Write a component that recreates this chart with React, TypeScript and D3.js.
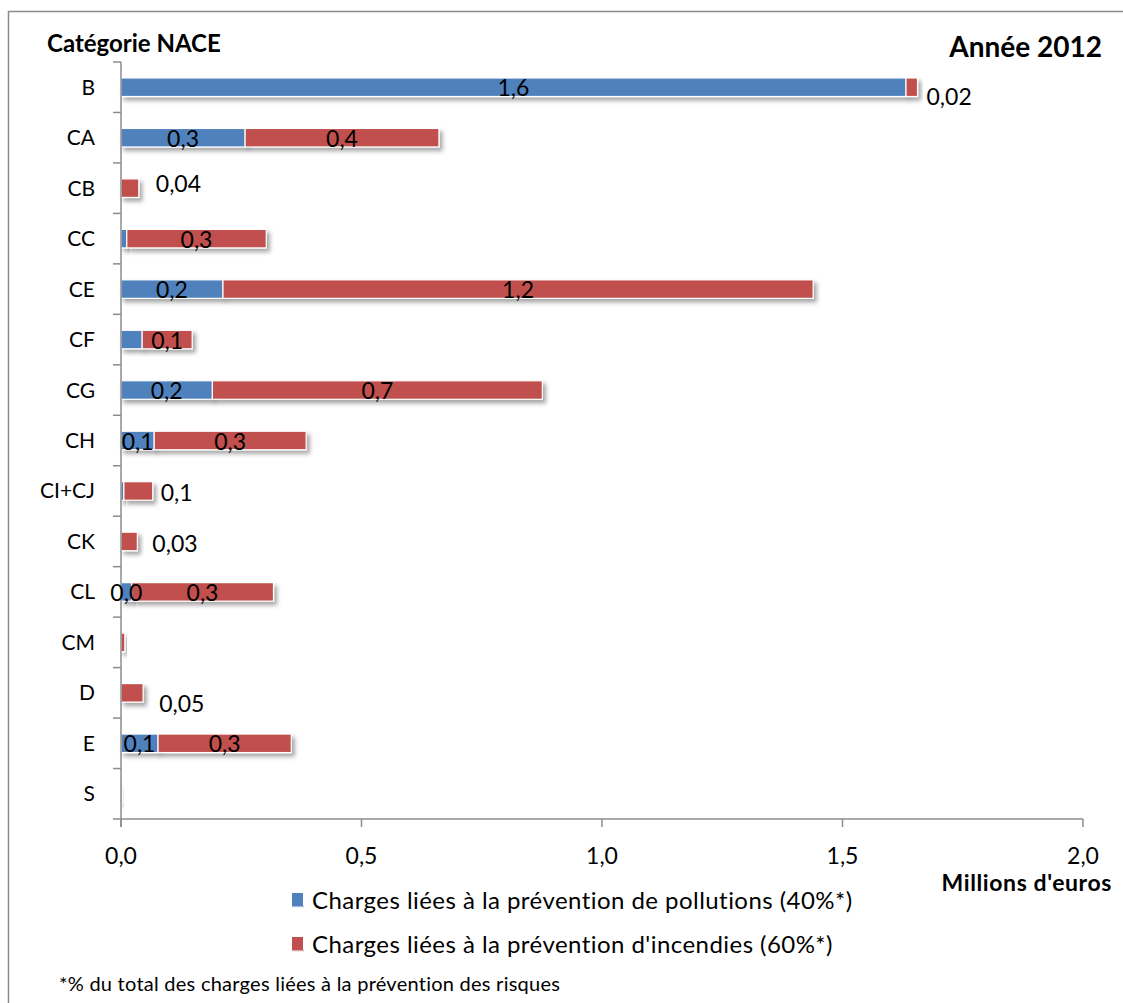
import React from "react";
import * as d3 from "d3";

const categories = ["B", "CA", "CB", "CC", "CE", "CF", "CG", "CH", "CI+CJ", "CK", "CL", "CM", "D", "E", "S"];
const pollution = [1.632, 0.258, 0, 0.012, 0.212, 0.044, 0.19, 0.069, 0.006, 0, 0.022, 0, 0, 0.077, 0];
const incendies = [0.024, 0.403, 0.037, 0.29, 1.227, 0.104, 0.686, 0.316, 0.06, 0.034, 0.295, 0.008, 0.046, 0.277, 0.003];
const xTicks = [0, 0.5, 1, 1.5, 2];

// which labels Excel shows
const showPollutionLabel = ["B", "CA", "CE", "CG", "CH", "CL", "E"];
const showIncendiesLabel = ["B", "CA", "CB", "CC", "CE", "CF", "CG", "CH", "CI+CJ", "CK", "CL", "D", "E"];
// labels moved outside the bar: decimals, offsets
const outsideLabels: Record<string, { dec: number; dx: number; dy: number }> = {
  B: { dec: 2, dx: 9, dy: 18 },
  CB: { dec: 2, dx: 17, dy: 3.5 },
  "CI+CJ": { dec: 1, dx: 8, dy: 10.5 },
  CK: { dec: 2, dx: 15, dy: 10.5 },
  D: { dec: 2, dx: 16, dy: 19 },
};

const legendItems = [
  { label: "Charges liées à la prévention de pollutions (40%*)", color: "#4F81BD" },
  { label: "Charges liées à la prévention d'incendies (60%*)", color: "#C0504D" },
];

const BLUE = "#4F81BD";
const RED = "#C0504D";
const AXIS = "#8c8c8c";
const FONT = "Lato, 'Open Sans', sans-serif";

const fmt = (v: number, dec: number) => v.toFixed(dec).replace(".", ",");

export default function App() {
  const W = 1123;
  const H = 1003;
  const x = d3.scaleLinear().domain([0, 2]).range([121, 1083]);
  const y = d3.scaleBand<string>().domain(categories).range([62, 819]);
  const step = y.step();
  const bh = step * 0.367;
  const cy = (c: string) => (y(c) as number) + step / 2;

  const boundaries = d3.range(categories.length + 1).map((i) => 62 + i * step);

  return (
    <svg width={W} height={H} style={{ position: "absolute", left: 0, top: 0, background: "#fff" }} fontFamily={FONT}>
      <defs>
        <filter id="sh" x="-20%" y="-40%" width="160%" height="220%">
          <feDropShadow dx="3" dy="3.5" stdDeviation="2.2" floodColor="#000" floodOpacity="0.35" />
        </filter>
      </defs>
      <rect x={0} y={0} width={W} height={H} fill="#fff" />
      <rect x={8.5} y={11.5} width={1300} height={1200} fill="none" stroke={AXIS} strokeWidth={1.5} />

      {/* titles */}
      <text x={47} y={52} fontSize={24} fontWeight="bold">Catégorie NACE</text>
      <text x={1102} y={57} fontSize={28} fontWeight="bold" textAnchor="end">Année 2012</text>

      {/* bars */}
      {categories.map((c, i) => {
        const p = pollution[i];
        const r = incendies[i];
        const yy = cy(c) - bh / 2;
        return (
          <g key={c}>
            {p > 0 && (
              <rect x={x(0)} y={yy} width={x(p) - x(0)} height={bh} fill={BLUE} stroke="#fff" strokeWidth={1.2} filter="url(#sh)" />
            )}
            {r > 0 && (
              <rect x={x(p)} y={yy} width={x(p + r) - x(p)} height={bh} fill={RED} stroke="#fff" strokeWidth={1.2} filter="url(#sh)" />
            )}
          </g>
        );
      })}

      {/* axes */}
      <line x1={121} x2={121} y1={62} y2={827} stroke={AXIS} strokeWidth={1.5} />
      <line x1={121} x2={x(2)} y1={819} y2={819} stroke={AXIS} strokeWidth={1.5} />
      {boundaries.map((b, i) => (
        <line key={"yt" + i} x1={113} x2={121} y1={b} y2={b} stroke={AXIS} strokeWidth={1.5} />
      ))}
      {xTicks.map((t) => (
        <g key={"xt" + t}>
          <line x1={x(t)} x2={x(t)} y1={819} y2={827} stroke={AXIS} strokeWidth={1.5} />
          <text x={x(t)} y={864} fontSize={23} textAnchor="middle">{fmt(t, 1)}</text>
        </g>
      ))}
      <text x={1112} y={891} fontSize={23} fontWeight="bold" textAnchor="end" letterSpacing={0.6}>Millions d'euros</text>

      {/* category labels */}
      {categories.map((c) => (
        <text key={"cl" + c} x={95} y={cy(c) + 7.5} fontSize={21} textAnchor="end">{c}</text>
      ))}

      {/* data labels */}
      {categories.map((c, i) => {
        const p = pollution[i];
        const r = incendies[i];
        const out = outsideLabels[c];
        const els: React.ReactNode[] = [];
        if (showPollutionLabel.includes(c)) {
          els.push(
            <text key="p" x={(x(0) + x(p)) / 2} y={cy(c) + 9} fontSize={23} textAnchor="middle">{fmt(p, 1)}</text>
          );
        }
        if (showIncendiesLabel.includes(c)) {
          if (out) {
            els.push(
              <text key="r" x={x(p + r) + out.dx} y={cy(c) + out.dy} fontSize={23}>{fmt(r, out.dec)}</text>
            );
          } else {
            els.push(
              <text key="r" x={(x(p) + x(p + r)) / 2} y={cy(c) + 9} fontSize={23} textAnchor="middle">{fmt(r, 1)}</text>
            );
          }
        }
        return <g key={"dl" + c}>{els}</g>;
      })}

      {/* legend */}
      {legendItems.map((it, i) => {
        const ly = 900 + i * 44;
        return (
          <g key={"lg" + i}>
            <rect x={292} y={ly - 7} width={11} height={13} fill={it.color} />
            <line x1={292} x2={304} y1={ly + 6.5} y2={ly + 6.5} stroke={it.color} strokeOpacity={0.5} strokeWidth={1.5} />
            <text x={312} y={ly + 8.5} fontSize={24} letterSpacing={0.45}>{it.label}</text>
          </g>
        );
      })}

      <text x={59} y={991} fontSize={20} letterSpacing={0.25}>*% du total des charges liées à la prévention des risques</text>
    </svg>
  );
}
